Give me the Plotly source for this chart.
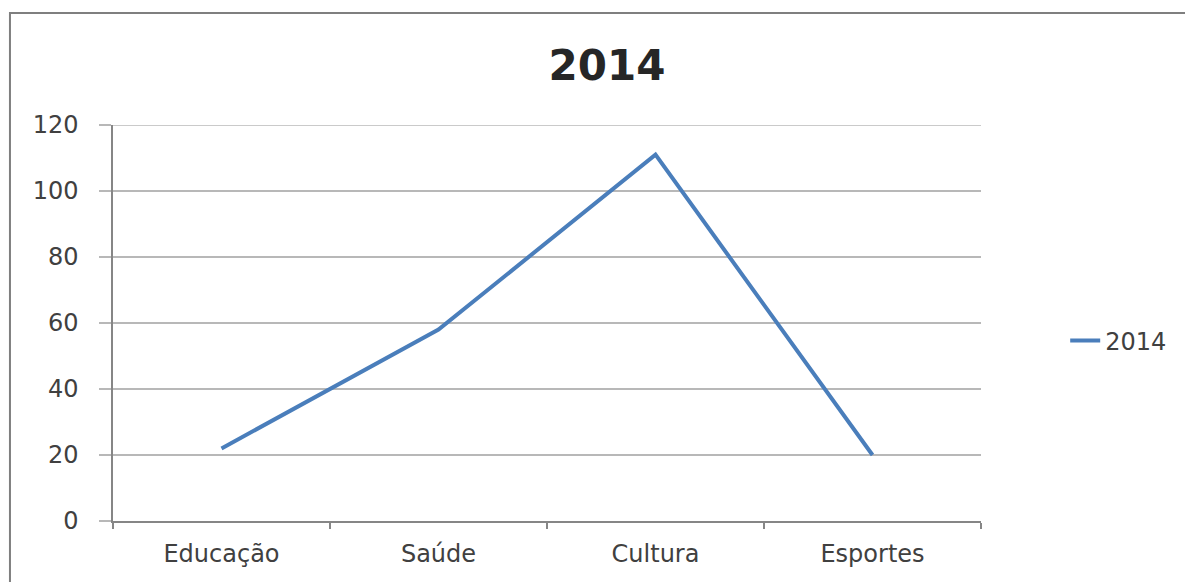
import plotly.graph_objects as go

BLUE = '#4a7ebb'
GRID = '#b8b8b8'
TEXT = '#404040'

categories = ['Educação', 'Saúde', 'Cultura', 'Esportes']
values_2014 = [22, 58, 111, 20]
y_ticks = [0, 20, 40, 60, 80, 100, 120]

fig = go.Figure()
fig.add_trace(go.Scatter(
    x=categories, y=values_2014, mode='lines', name='2014',
    line=dict(color=BLUE, width=4),
))

# page body has an 8px margin, so the figure is sized/offset to compensate
fig.update_layout(
    width=1185, height=574,
    template='plotly_white',
    paper_bgcolor='white', plot_bgcolor='white',
    margin=dict(l=105, r=212, t=117, b=61),
    font=dict(family='DejaVu Sans, sans-serif', size=24, color=TEXT),
    title=dict(text='<b>2014</b>', x=0.5055, xref='container', xanchor='center',
               y=0.9007, yref='container', yanchor='middle',
               font=dict(size=42, color='#262626')),
    showlegend=True,
    legend=dict(x=1.097, y=0.455, xanchor='left', yanchor='middle',
                font=dict(size=24, color=TEXT), bgcolor='rgba(0,0,0,0)'),
    shapes=[dict(type='rect', xref='paper', yref='paper',
                 x0=-0.1187, x1=1.3, y0=-0.3, y1=1.283,
                 line=dict(color='#7f7f7f', width=2), layer='below')],
)
# plotly drops the gridline sitting on the top edge; put it back
fig.add_hline(y=y_ticks[-1], line=dict(color=GRID, width=1.5), layer='below')

fig.update_xaxes(
    type='category', range=[-0.5, 3.5], tickson='boundaries',
    showgrid=False, showline=True, linecolor='#868686', linewidth=1.5,
    ticks='outside', ticklen=6, tickcolor='#868686', tickwidth=1.5,
    ticklabelstandoff=10, zeroline=False,
)
fig.update_yaxes(
    range=[0, 120], tickvals=y_ticks,
    showgrid=True, gridcolor=GRID, gridwidth=1.5,
    showline=True, linecolor='#868686', linewidth=1.5,
    ticks='outside', ticklen=12, tickcolor=GRID, tickwidth=1.5,
    ticklabelstandoff=16, zeroline=False,
)

fig.write_html('out.html')
